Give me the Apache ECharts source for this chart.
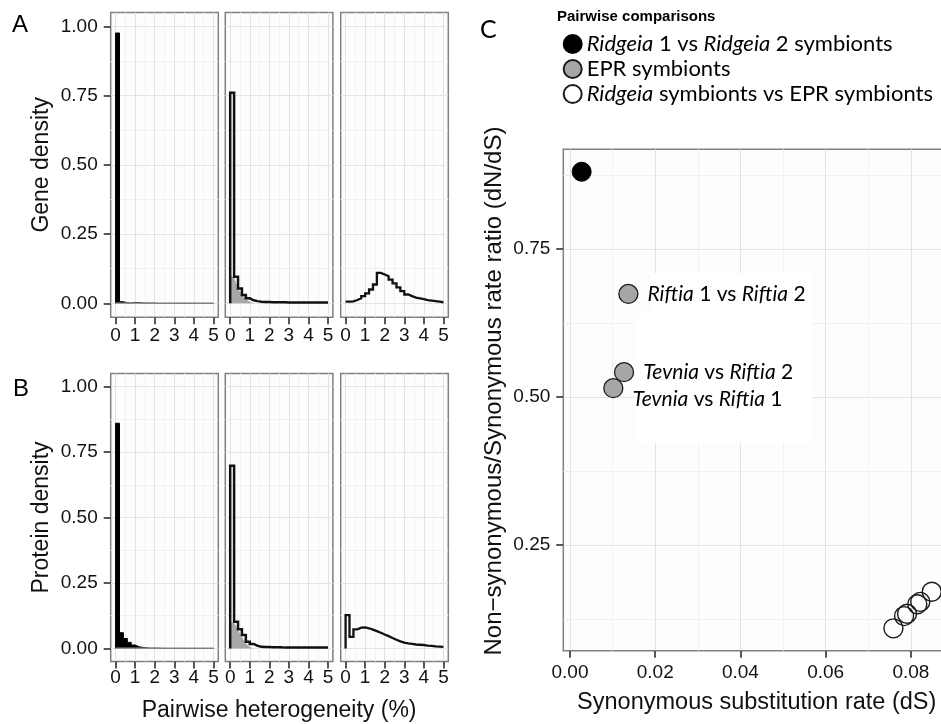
<!DOCTYPE html>
<html><head><meta charset="utf-8">
<script src="https://cdn.jsdelivr.net/npm/echarts@6/dist/echarts.min.js"></script>
<style>html,body{margin:0;padding:0;background:#fff}#c{width:941px;height:724px}</style>
</head><body><div id="c"></div>
<script>
// ---------- DATA ----------
// histogram bins (pairwise heterogeneity, %), width 0.2
const binStarts = [0,0.2,0.4,0.6,0.8,1.0,1.2,1.4,1.6,1.8,2.0,2.2,2.4,2.6,2.8,3.0,3.2,3.4,3.6,3.8,4.0,4.2,4.4,4.6,4.8];
const binEnd = 5;
const heteroTicks = [0,1,2,3,4,5];
const heteroMinor = [0.5,1.5,2.5,3.5,4.5];
const densityTicks = [0,0.25,0.5,0.75,1];
const densityMinor = [0.125,0.375,0.625,0.875];

// Panel A - gene density
const geneRidgeia      = [0.976,0.006,0.002,0.001,0.003,0.003,0.001,0.001,0.001,0.001,0,0,0,0,0,0,0,0,0,0,0,0,0,0,0];
const geneRidgeiaTrace = [0.001,0.001,0.001,0.001,0.001,0.001,0.001,0.001,0.001,0.001,0.001,0.001,0.001,0.001,0.001,0.001,0.001,0.001,0.001,0.001,0.001,0.001,0.001,0.001,0.001];
const geneEPR          = [0.760,0.096,0.054,0.030,0.018,0.011,0.008,0.006,0.005,0.005,0.004,0.004,0.004,0.004,0.003,0.003,0.003,0.003,0.003,0.003,0.003,0.003,0.003,0.003,0.003];
const fillX            = [0,0.2,0.4,0.6,0.8,1.0,1.2];
const geneEPRFill      = [0.100,0.094,0.054,0.030,0.016,0.006,0.000];
const geneCross        = [0.006,0.007,0.012,0.018,0.026,0.036,0.050,0.068,0.110,0.104,0.098,0.086,0.072,0.058,0.044,0.032,0.026,0.021,0.018,0.015,0.012,0.010,0.008,0.006,0.004];

// Panel B - protein density
const protRidgeia      = [0.860,0.060,0.038,0.023,0.013,0.006,0.004,0.002,0.001,0.001,0.001,0,0,0,0,0,0,0,0,0,0,0,0,0,0];
const protRidgeiaTrace = [0.001,0.001,0.001,0.001,0.001,0.001,0.001,0.001,0.001,0.001,0.001,0.001,0.001,0.001,0.001,0.001,0.001,0.001,0.001,0.001,0.001,0.001,0.001,0.001,0.001];
const protEPR          = [0.698,0.102,0.073,0.051,0.025,0.017,0.010,0.006,0.005,0.005,0.004,0.004,0.004,0.003,0.003,0.003,0.003,0.003,0.003,0.003,0.003,0.003,0.003,0.003,0.003];
const protEPRFill      = [0.100,0.098,0.070,0.045,0.020,0.005,0.000];
const protCross        = [0.127,0.044,0.073,0.079,0.080,0.077,0.072,0.066,0.060,0.053,0.047,0.040,0.033,0.027,0.022,0.019,0.017,0.015,0.014,0.013,0.011,0.010,0.008,0.007,0.006];

// Panel C - dN/dS vs dS
const seriesNames = ['Ridgeia 1 vs Ridgeia 2 symbionts','EPR symbionts','Ridgeia symbionts vs EPR symbionts'];
const legendRich  = ['{i|Ridgeia} 1 vs {i|Ridgeia} 2 symbionts','EPR symbionts','{i|Ridgeia} symbionts vs EPR symbionts'];
const ridgeiaPair = [[0.00274,0.881]];
const eprPairs    = [[0.0137,0.6745],[0.01268,0.5422],[0.01017,0.5152]];
const eprLabels   = ['{i|Riftia} 1 vs {i|Riftia} 2','{i|Tevnia} vs {i|Riftia} 2','{i|Tevnia} vs {i|Riftia} 1'];
const crossPairs  = [[0.0759,0.1093],[0.0784,0.1300],[0.0791,0.1340],[0.0815,0.1500],[0.0822,0.1540],[0.0849,0.1711]];
const dsTicks  = [0,0.02,0.04,0.06,0.08];
const dsMinor  = [0.01,0.03,0.05,0.07,0.09];
const ratioTicks = [0.25,0.5,0.75];
const ratioMinor = [0.125,0.375,0.625,0.875];

// ---------- LAYOUT / STYLE ----------
const SANS = "'Liberation Sans', Arial, sans-serif";
const CAL = "Lato, 'Open Sans', sans-serif";
const facetLefts = [110.7, 225.3, 340.7];
const facetWidth = 107.6;
const rows = [{top:12.5, height:304.7}, {top:373.5, height:288}];
const majorColor = '#e3e3e3', minorColor = '#f1f1f1';

const grids = [], xAxes = [], yAxes = [], series = [];
function panelGrid(left, top, width, height){
  grids.push({left, top, width, height, show:true, borderColor:'#808080', borderWidth:1.5,
    backgroundColor:'#fdfdfd', outerBoundsMode:'none', containLabel:false});
  return grids.length - 1;
}
function addAxes(list, g, dim, min, max, major, minor, opt){
  list.push({type:'value', gridIndex:g, min, max, position: dim==='x'?'top':'right',
    axisLine:{show:false,onZero:false}, axisTick:{show:false, customValues:minor},
    axisLabel:{show:false}, splitLine:{show:true, lineStyle:{color:minorColor, width:1}}});
  const ax = {type:'value', gridIndex:g, min, max, position: dim==='x'?'bottom':'left',
    axisLine:{show:false,onZero:false},
    axisTick:{show:opt.ticks, customValues:major, length:opt.tickLen||7, lineStyle:{color:'#222', width:1.5}},
    axisLabel:{show:opt.labels, customValues:major, margin:opt.margin, color:'#111', fontSize:19, fontFamily:SANS, formatter:opt.fmt},
    splitLine:{show:true, lineStyle:{color:majorColor, width:1}}};
  if (opt.name){ Object.assign(ax, {name:opt.name, nameLocation:'middle', nameGap:opt.nameGap,
    nameTextStyle:{fontSize:opt.nameSize||23, fontFamily:SANS, color:'#111', padding:opt.namePad||0}}); }
  list.push(ax);
  return list.length - 1;
}
function stepPoints(values, fromBase){
  const pts = fromBase ? [[binStarts[0], 0]] : [];
  values.forEach((v,i)=>pts.push([binStarts[i], v]));
  pts.push([binEnd, values[values.length-1]]);
  return pts;
}
const fmt2 = v => v.toFixed(2);
const fmt0 = v => String(v);

const histRows = [
  {title:'Gene density', ridgeia:geneRidgeia, trace:geneRidgeiaTrace, epr:geneEPR, fill:geneEPRFill, cross:geneCross, crossBase:false},
  {title:'Protein density', ridgeia:protRidgeia, trace:protRidgeiaTrace, epr:protEPR, fill:protEPRFill, cross:protCross, crossBase:true}
];
histRows.forEach((row, r)=>{
  for (let f=0; f<3; f++){
    const g = panelGrid(facetLefts[f], rows[r].top, facetWidth, rows[r].height);
    const xi = addAxes(xAxes, g, 'x', -0.25, 5.25, heteroTicks, heteroMinor,
      {ticks:true, labels:true, margin: r===0?9:7, fmt:fmt0,
       name: (r===1 && f===1) ? 'Pairwise heterogeneity (%)' : null, nameGap:38});
    const yi = addAxes(yAxes, g, 'y', -0.05, 1.05, densityTicks, densityMinor,
      {ticks:f===0, labels:f===0, margin:13, fmt:fmt2, name: f===0 ? row.title : null, nameGap:58});
    const base = {type:'line', xAxisIndex:xi, yAxisIndex:yi, symbol:'none', animation:false, silent:true};
    if (f===0){
      series.push(Object.assign({}, base, {step:'end', data:stepPoints(row.ridgeia,true),
        lineStyle:{color:'#000', width:1, join:'miter'}, areaStyle:{color:'#000', opacity:1}}));
      series.push(Object.assign({}, base, {step:'end', data:stepPoints(row.trace,false),
        lineStyle:{color:'#9a9a9a', width:1.3}}));
    } else if (f===1){
      series.push(Object.assign({}, base, {data:fillX.map((x,i)=>[x,row.fill[i]]),
        lineStyle:{width:0, opacity:0}, areaStyle:{color:'#a8a8a8', opacity:1}}));
      series.push(Object.assign({}, base, {step:'end', data:stepPoints(row.epr,true),
        lineStyle:{color:'#111', width:2.5, join:'miter'}}));
    } else {
      series.push(Object.assign({}, base, {step:'end', data:stepPoints(row.cross,row.crossBase),
        lineStyle:{color:'#111', width:2.3, join:'miter'}}));
    }
  }
});

// Panel C
const gC = panelGrid(563.3, 149.3, 386.8, 501.4);
const xC = addAxes(xAxes, gC, 'x', -0.00157, 0.0892, dsTicks, dsMinor,
  {ticks:true, labels:true, margin:13, fmt:fmt2, name:'Synonymous substitution rate (dS)', nameGap:40, nameSize:23.5});
const yC = addAxes(yAxes, gC, 'y', 0.0715, 0.9189, ratioTicks, ratioMinor,
  {ticks:true, labels:true, margin:13, fmt:fmt2, name:'Non\u2212synonymous/Synonymous rate ratio (dN/dS)', nameGap:57,
   nameSize:24, namePad:[0,0,0,18]});
const richLab = {i:{fontStyle:'italic', fontFamily:CAL, fontSize:21, color:'#000'}};
const richLeg = {i:{fontStyle:'italic', fontFamily:CAL, fontSize:22, color:'#000'}};
const scatterBase = {type:'scatter', xAxisIndex:xC, yAxisIndex:yC, symbol:'circle', symbolSize:19, animation:false, z:3};
series.push(Object.assign({}, scatterBase, {name:seriesNames[0], data:ridgeiaPair,
  itemStyle:{color:'#000', borderColor:'#000', borderWidth:1, opacity:1}}));
series.push(Object.assign({}, scatterBase, {name:seriesNames[1],
  data: eprPairs.map((p,i)=>({value:p, label:{show:true, formatter:eprLabels[i], position:'right', distance:9,
     offset: i===2 ? [0, 11] : [0,0], fontFamily:CAL, fontSize:21, color:'#000', rich:richLab}})),
  itemStyle:{color:'#a6a6a6', borderColor:'#1a1a1a', borderWidth:1.3, opacity:1}}));
series.push(Object.assign({}, scatterBase, {name:seriesNames[2], data:crossPairs,
  itemStyle:{color:'rgba(255,255,255,0)', borderColor:'#1a1a1a', borderWidth:1.4, opacity:1}}));

const option = {
  backgroundColor:'#ffffff',
  animation:false,
  title:[
    {text:'A', left:12, top:13, padding:0, textStyle:{fontSize:24, fontWeight:'normal', fontFamily:SANS, color:'#000'}},
    {text:'B', left:13, top:377, padding:0, textStyle:{fontSize:24, fontWeight:'normal', fontFamily:SANS, color:'#000'}},
    {text:'C', left:480, top:17, padding:0, textStyle:{fontSize:25, fontWeight:'normal', fontFamily:CAL, color:'#000'}},
    {text:'Pairwise comparisons', left:557, top:9, padding:0, textStyle:{fontSize:15, fontWeight:'bold', fontFamily:SANS, color:'#000'}}
  ],
  legend:{orient:'vertical', left:562.7, top:33, padding:0, itemWidth:18, itemHeight:18, itemGap:3, icon:'circle',
    data:seriesNames, formatter: name => legendRich[seriesNames.indexOf(name)],
    textStyle:{fontFamily:CAL, fontSize:22, color:'#000', rich:richLeg}},
  graphic:[
    {type:'rect', z:1, silent:true, shape:{x:651, y:273, width:161, height:40}, style:{fill:'#ffffff'}},
    {type:'rect', z:1, silent:true, shape:{x:635, y:313, width:177, height:130}, style:{fill:'#ffffff'}}
  ],
  grid:grids, xAxis:xAxes, yAxis:yAxes, series
};
const chart = echarts.init(document.getElementById('c'), null, {renderer:'canvas'});
chart.setOption(option);
</script></body></html>
